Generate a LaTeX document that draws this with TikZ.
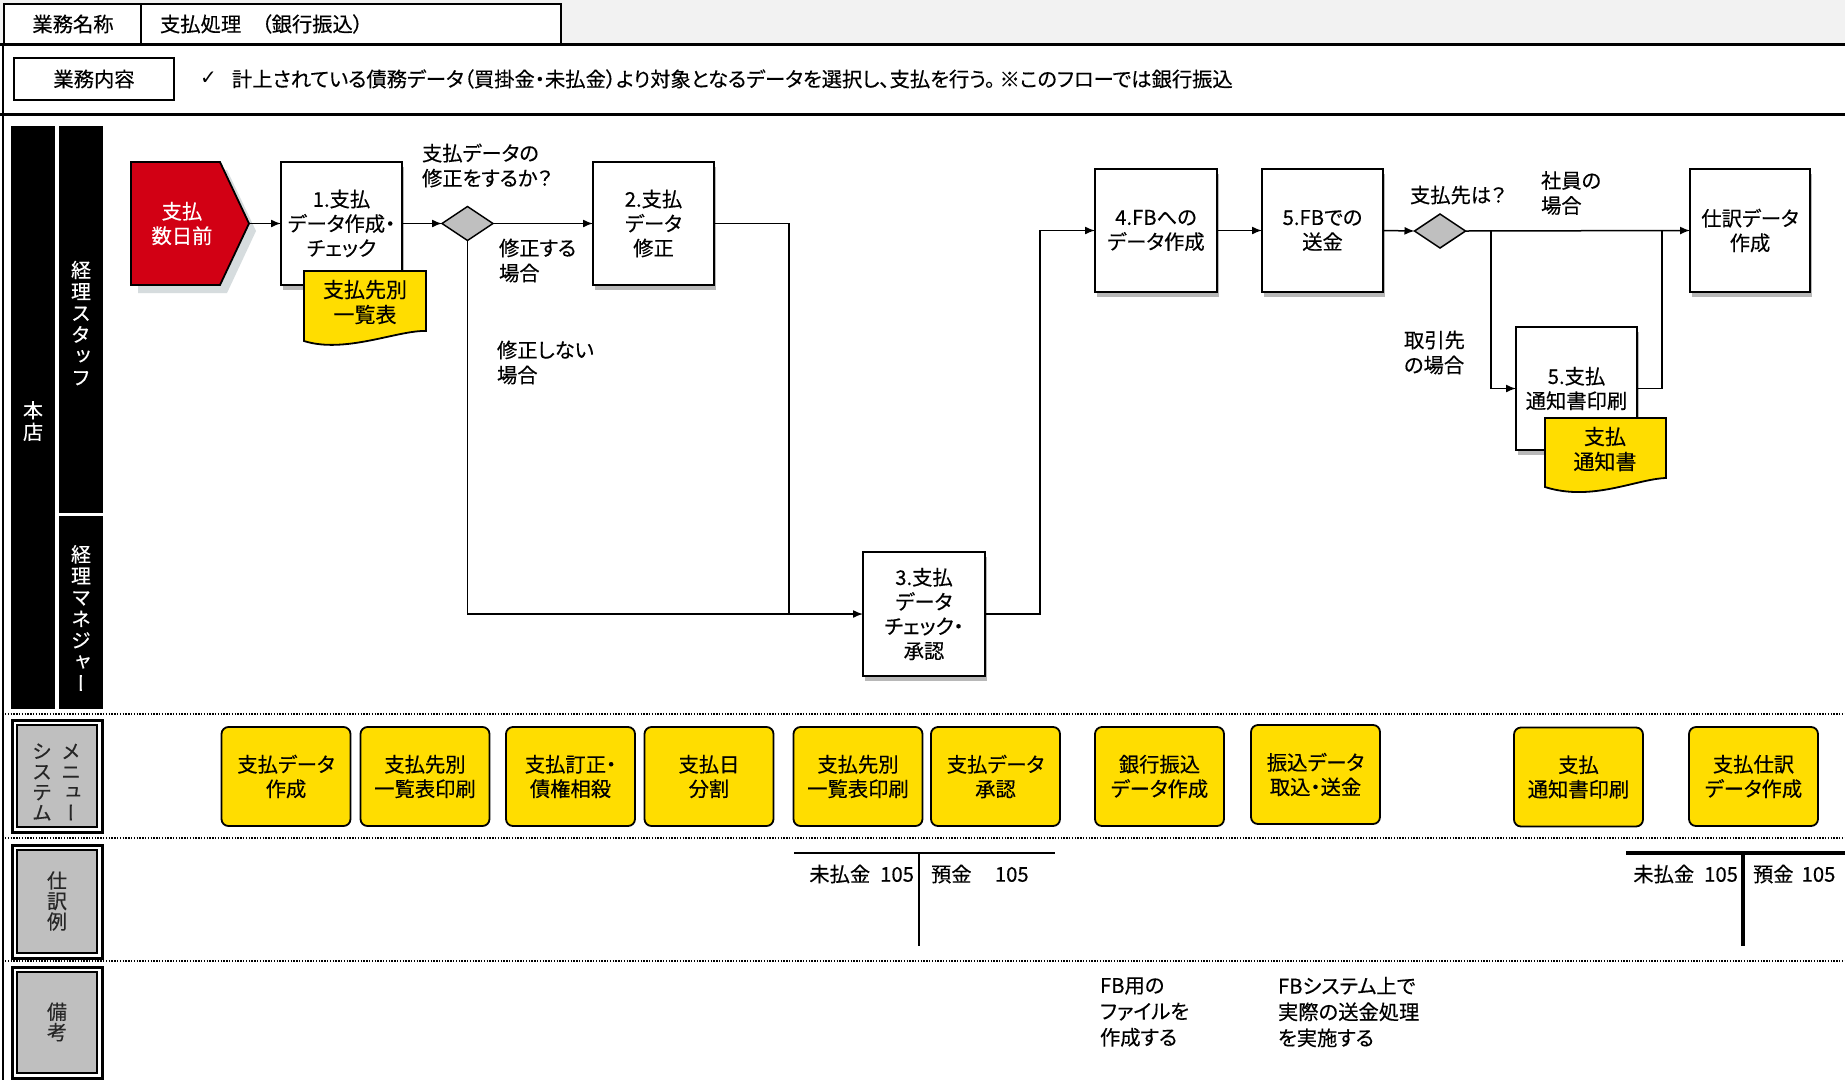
\documentclass[tikz,border=0pt]{standalone}
\usepackage{fontspec}
\setmainfont{Noto Sans CJK JP}[RawFeature=+palt, FakeBold=0.3]
\newfontfamily\vfont{Noto Sans CJK JP}[RawFeature=+vert, FakeBold=0.3]
\newfontfamily\dejavu{DejaVu Sans}
\usetikzlibrary{arrows.meta,shapes.geometric,shadows}
\definecolor{kyellow}{RGB}{255,221,0}
\definecolor{kred}{RGB}{210,0,20}
\definecolor{kgrey}{RGB}{191,191,191}
\definecolor{hdrgrey}{RGB}{242,242,242}
\definecolor{shgrey}{RGB}{214,220,222}
\begin{document}
\begin{tikzpicture}[x=1pt,y=-1pt,
  every node/.style={inner sep=0pt, outer sep=0pt, font=\fontsize{20.3}{24.5}\selectfont},
  proc/.style={draw, line width=1.8pt, fill=white, minimum width=121pt, minimum height=123pt, align=center,
    drop shadow={shadow xshift=2pt, shadow yshift=-5pt, fill=black, opacity=0.28}},
  dec/.style={diamond, draw, line width=1.5pt, fill=kgrey, minimum width=51pt, minimum height=34pt},
  sysbox/.style={draw, line width=1.8pt, fill=kyellow, rounded corners=7pt, minimum width=129pt, minimum height=99pt, align=center},
  docshape/.style={draw, line width=1.8pt, fill=kyellow},
  arr/.style={line width=1.5pt, -{Latex[length=10pt,width=8pt]}},
  conn/.style={line width=1.5pt},
  lbl/.style={align=left, anchor=west, font=\fontsize{20.3}{25}\selectfont},
  vlbl/.style={text=white, align=center, font=\vfont\fontsize{20}{21.5}\selectfont},
  glbl/.style={text=black!85, align=center, font=\vfont\fontsize{20}{20.5}\selectfont},
  dots/.style={line width=1.3pt, dash pattern=on 1.4pt off 1.4pt},
]
\useasboundingbox (0,0) rectangle (1845,1080);
\fill[white] (0,0) rectangle (1845,1080);
% ---------- header ----------
\fill[hdrgrey] (0,0) rectangle (1845,44);
\draw[line width=1.5pt, fill=white] (4,4) rectangle (561,44);
\draw[line width=1.5pt] (141,4) -- (141,44);
\node (hname) at (73,24) {業務名称};
\node[anchor=west] (htitle) at (160,24) {支払処理　（銀行振込）};
\draw[line width=3pt] (0,44) -- (1845,44);
\draw[line width=3pt] (0,114) -- (1845,114);
\draw[line width=1.5pt] (14,58) rectangle (174,100);
\node (hcont) at (94,79) {業務内容};
\node[anchor=west, font=\dejavu\fontsize{20}{22}\selectfont] (hcheck) at (200,78) {✓};
\node[anchor=west] (hdesc) at (232,79) {計上されている債務データ（買掛金・未払金）より対象となるデータを選択し、支払を行う。 ※このフローでは銀行振込};
\draw[line width=2pt] (3,44) -- (3,1080);
% ---------- lanes ----------
\fill[black] (11,126) rectangle (55,709);
\fill[black] (59,126) rectangle (103,513);
\fill[black] (59,516) rectangle (103,709);
\node[vlbl] (lhq) at (33,421) {本\\店};
\node[vlbl] (lstaff) at (81,323) {経\\理\\ス\\タ\\ッ\\フ};
\node[vlbl] (lmgr) at (81,618) {経\\理\\マ\\ネ\\ジ\\ャ\\ー};
\draw[dots] (5,714) -- (1845,714);
\draw[dots] (5,838) -- (1845,838);
\draw[dots] (5,961) -- (1845,961);
% grey row labels
\foreach \ya/\yb in {720/832, 845/958, 967/1078}{
  \draw[line width=3pt, fill=white] (12,\ya) rectangle (102,\yb);
  \draw[line width=1.5pt, fill=kgrey] (17,\ya+5) rectangle (97,\yb-5);
}
\node[glbl] (lmenu) at (71,782) {メ\\ニ\\ュ\\ー};
\node[glbl] (lsys) at (42,782) {シ\\ス\\テ\\ム};
\node[glbl] (ljournal) at (57,901) {仕\\訳\\例};
\node[glbl] (lnote) at (57,1022) {備\\考};
% ---------- flow ----------
\fill[shgrey] (138,170) -- (227,170) -- (256,231) -- (227,293) -- (138,293) -- cycle;
\draw[line width=1.8pt, fill=kred] (131,162) -- (220,162) -- (249,223.5) -- (220,285) -- (131,285) -- cycle;
\node[text=white, align=center] (start) at (182,223.5) {支払\\数日前};
\coordinate (starttip) at (249,223.5);

\node[proc] (b1) at (341.5,223.5) {1.支払\\データ作成・\\チェック};
\draw[docshape] (304,271) -- (426,271) -- (426,331) .. controls (398,330) and (345,354) .. (304,341) -- cycle;
\node[align=center, font=\fontsize{21}{25}\selectfont] (doc1) at (365,302) {支払先別\\一覧表};

\node[dec] (d1) at (467.5,223.5) {};
\node[proc] (b2) at (653.5,223.5) {2.支払\\データ\\修正};
\node[proc, minimum width=122pt, minimum height=124pt] (b3) at (924,614) {3.支払\\データ\\チェック・\\承認};
\node[proc, minimum width=122pt] (b4) at (1156,230.5) {4.FBへの\\データ作成};
\node[proc] (b5) at (1322.5,230.5) {5.FBでの\\送金};
\node[dec] (d2) at (1440,231) {};
\node[proc, minimum width=120pt] (b6) at (1750,230.5) {仕訳データ\\作成};
\node[proc] (b7) at (1576.5,388.5) {5.支払\\通知書印刷};
\draw[docshape] (1545,418) -- (1666,418) -- (1666,478) .. controls (1636,479) and (1592,502) .. (1545,487) -- cycle;
\node[align=center, font=\fontsize{21}{25}\selectfont] (doc2) at (1605,449) {支払\\通知書};

\node[lbl] (q1) at (422,165.5) {支払データの\\修正をするか？};
\node[lbl] (y1) at (499,260.5) {修正する\\場合};
\node[lbl] (n1) at (497,362.5) {修正しない\\場合};
\node[lbl] (q2) at (1410,195) {支払先は？};
\node[lbl] (y2) at (1541,193) {社員の\\場合};
\node[lbl] (n2) at (1404,352.5) {取引先\\の場合};

\coordinate (j1) at (789,614);
\coordinate (j2) at (1040,400);
\coordinate (j3) at (1491,231);
\coordinate (j4) at (1662,231);

\draw[arr] (starttip) -- (b1.west);
\draw[arr] (b1.east) -- (d1.west);
\draw[arr] (d1.east) -- (b2.west);
\draw[arr] (d1.south) |- (b3.west);
\draw[conn] (b2.east) -| (j1);
\draw[arr] (b3.east) -| (j2) |- (b4.west);
\draw[arr] (b4.east) -- (b5.west);
\draw[arr] (b5.east) -- (d2.west);
\draw[arr] (d2.east) -- (b6.west);
\draw[arr] (j3) |- (b7.west);
\draw[conn] (b7.east) -| (j4);
% ---------- system menus ----------
\node[sysbox] (m1) at (286,776.5) {支払データ\\作成};
\node[sysbox] (m2) at (425,776.5) {支払先別\\一覧表印刷};
\node[sysbox] (m3) at (570.5,776.5) {支払訂正・\\債権相殺};
\node[sysbox] (m4) at (709,776.5) {支払日\\分割};
\node[sysbox] (m5) at (858,776.5) {支払先別\\一覧表印刷};
\node[sysbox] (m6) at (995.5,776.5) {支払データ\\承認};
\node[sysbox] (m7) at (1159.5,776.5) {銀行振込\\データ作成};
\node[sysbox] (m8) at (1315.5,774.5) {振込データ\\取込・送金};
\node[sysbox] (m9) at (1578.5,777) {支払\\通知書印刷};
\node[sysbox] (m10) at (1753.5,776.5) {支払仕訳\\データ作成};
% ---------- journal ----------
\draw[line width=1.3pt] (794,853) -- (1055,853);
\draw[line width=1.3pt] (919,853) -- (919,946);
\node[anchor=east] (t1l) at (914,874) {未払金\hspace{10pt}105};
\node[anchor=west] (t1r) at (931,874) {預金　\hspace{3pt}105};
\draw[line width=4.5pt] (1626,853) -- (1845,853);
\draw[line width=4.5pt] (1743,853) -- (1743,946);
\node[anchor=east] (t2l) at (1738,874) {未払金\hspace{10pt}105};
\node[anchor=west] (t2r) at (1753,874) {預金\hspace{8pt}105};
% ---------- remarks ----------
\node[lbl, font=\fontsize{20.3}{26}\selectfont] (r1) at (1100,1012) {FB用の\\ファイルを\\作成する};
\node[lbl, font=\fontsize{20.3}{26}\selectfont] (r2) at (1278,1012) {FBシステム上で\\実際の送金処理\\を実施する};
\end{tikzpicture}
\end{document}
